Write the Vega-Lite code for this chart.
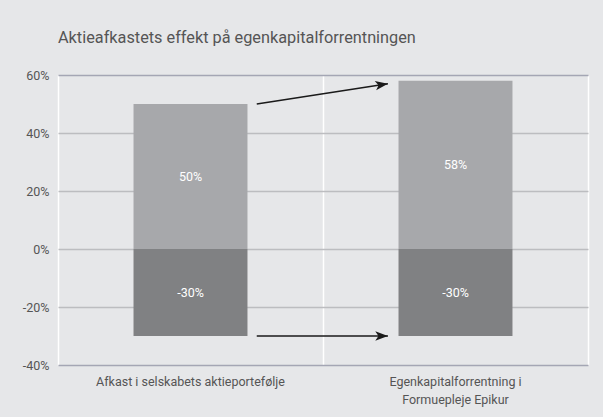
{
  "$schema": "https://vega.github.io/schema/vega-lite/v6.json",
  "width": 530,
  "height": 290,
  "autosize": {"type": "none"},
  "padding": {"left": 58, "top": 75, "right": 15, "bottom": 52},
  "background": "#e6e7e9",
  "config": {
    "view": {"stroke": null, "fill": "#e6e7e9"},
    "font": "Roboto"
  },
  "title": {
    "text": "Aktieafkastets effekt på egenkapitalforrentningen",
    "anchor": "start",
    "frame": "group",
    "font": "Roboto",
    "fontSize": 16.3,
    "fontWeight": "normal",
    "color": "#555555",
    "baseline": "alphabetic",
    "offset": 10
  },
  "datasets": {
    "bars": [
      {"category": "Afkast i selskabets aktieportefølje", "part": "pos", "value": 50, "label": "50%"},
      {"category": "Afkast i selskabets aktieportefølje", "part": "neg", "value": -30, "label": "-30%"},
      {"category": "Egenkapitalforrentning i Formuepleje Epikur", "part": "pos", "value": 58, "label": "58%"},
      {"category": "Egenkapitalforrentning i Formuepleje Epikur", "part": "neg", "value": -30, "label": "-30%"}
    ],
    "arrows": [
      {"xs": 0.75, "ys": 50, "xe": 1.245, "ye": 57, "angle": 351.2},
      {"xs": 0.75, "ys": -30, "xe": 1.245, "ye": -30, "angle": 0}
    ]
  },
  "layer": [
    {
      "data": {"name": "bars"},
      "encoding": {
        "x": {
          "field": "category",
          "type": "nominal",
          "sort": null,
          "scale": {"paddingInner": 0.57, "paddingOuter": 0.285},
          "axis": {
            "orient": "bottom",
            "title": null,
            "labelAngle": 0,
            "domain": false,
            "ticks": false,
            "grid": false,
            "labelPadding": 10,
            "labelFontSize": 12.5,
            "labelLimit": 400,
            "labelColor": "#555555",
            "labelFont": "Roboto",
            "labelLineHeight": 18,
            "labelExpr": "datum.value == 'Egenkapitalforrentning i Formuepleje Epikur' ? ['Egenkapitalforrentning i', 'Formuepleje Epikur'] : datum.value"
          }
        }
      },
      "layer": [
        {
          "mark": {"type": "bar"},
          "encoding": {
            "y": {
              "field": "value",
              "type": "quantitative",
              "stack": null,
              "scale": {"domain": [-40, 60], "nice": false},
              "axis": {
                "title": null,
                "values": [-40, -20, 0, 20, 40, 60],
                "domain": false,
                "ticks": false,
                "labelPadding": 9,
                "labelFontSize": 12.5,
                "labelColor": "#555555",
                "labelFont": "Roboto",
                "labelExpr": "datum.value + '%'",
                "gridColor": {"condition": {"test": "datum.value === 60 || datum.value === -40", "value": "#a4a6b4"}, "value": "#bcbdc0"},
                "gridWidth": 1.5
              }
            },
            "color": {
              "field": "part",
              "type": "nominal",
              "scale": {"domain": ["pos", "neg"], "range": ["#a7a8ab", "#808183"]},
              "legend": null
            }
          }
        },
        {
          "transform": [{"calculate": "datum.value / 2", "as": "mid"}],
          "mark": {"type": "text", "color": "#ffffff", "fontSize": 12.5, "font": "Roboto"},
          "encoding": {
            "y": {"field": "mid", "type": "quantitative"},
            "text": {"field": "label"}
          }
        }
      ]
    },
    {
      "data": {"name": "arrows"},
      "encoding": {
        "x": {
          "field": "xe",
          "type": "quantitative",
          "scale": {"domain": [0, 2], "nice": false, "zero": false},
          "axis": {"orient": "top", "values": [0, 1, 2], "grid": true, "labels": false, "ticks": false, "domain": false, "title": null, "gridColor": "#ffffff", "gridWidth": 1.5, "gridOpacity": 1}
        },
        "y": {"field": "ye", "type": "quantitative"}
      },
      "layer": [
        {
          "mark": {"type": "rule", "color": "#1a1a1a", "strokeWidth": 1.5},
          "encoding": {
            "x": {"field": "xs", "type": "quantitative"},
            "x2": {"field": "xe"},
            "y": {"field": "ys", "type": "quantitative"},
            "y2": {"field": "ye"}
          }
        },
        {
          "mark": {"type": "point", "shape": "M0,0 L-2,-0.75 L-1.5,0 L-2,0.75 Z", "filled": true, "color": "#1a1a1a", "size": 160, "opacity": 1},
          "encoding": {
            "angle": {"field": "angle", "type": "quantitative", "scale": null}
          }
        }
      ]
    }
  ],
  "resolve": {"scale": {"x": "independent"}}
}
